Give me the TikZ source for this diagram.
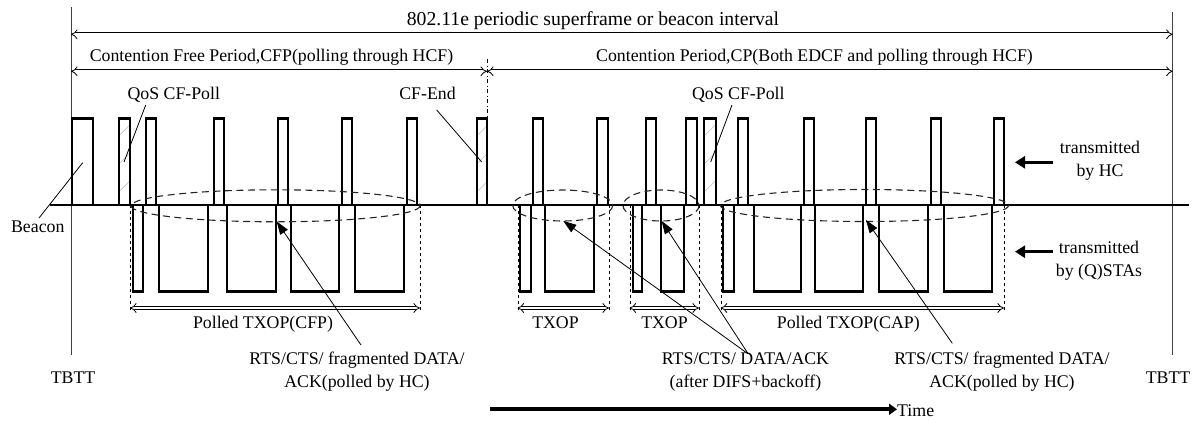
\documentclass[tikz,border=0pt]{standalone}
\usepackage{fontspec}
\setmainfont{Liberation Serif}
\usetikzlibrary{arrows.meta}
\begin{document}
\begin{tikzpicture}[x=1pt,y=-1pt,
  every node/.style={font=\fontsize{17.8}{23}\selectfont, inner sep=0pt},
  lbl/.style={anchor=base},
  titlefont/.style={font=\fontsize{19.7}{23}\selectfont},
  pulse/.style={line width=2.3pt, line join=miter},
  tbtt/.style={line width=1pt, black!75},
  dbl/.style={double, double distance=2.6pt, line width=0.8pt, {Implies}-{Implies}},
  boundary/.style={line width=1pt, dash pattern=on 3pt off 3pt},
  dashdotline/.style={line width=1pt, dash pattern=on 4pt off 2.5pt on 1pt off 2.5pt},
  oval/.style={draw=black!85, line width=1.1pt, dash pattern=on 7pt off 4.5pt},
  pointer/.style={line width=0.8pt},
  ptrarrow/.style={line width=0.8pt, -{Triangle[length=13pt,width=9pt]}},
  thickarrow/.style={line width=3.5pt, -{Triangle[length=10pt,width=12pt]}},
  timearrow/.style={line width=4pt, -{Triangle[length=8pt,width=11pt]}},
  hatch/.style={black!25, line width=0.6pt}
]
\useasboundingbox (0,0) rectangle (1202,421);

% TBTT lines
\node[lbl] (tbttL) at (73,383) {TBTT};
\node[lbl] (tbttR) at (1168,383) {TBTT};
\coordinate (tL1) at (71,7);
\coordinate (tL2) at (71,355);
\coordinate (tR1) at (1172.7,12);
\coordinate (tR2) at (1172.7,355);
\draw[tbtt] (tL1) -- (tL2);
\draw[tbtt] (tR1) -- (tR2);

% period arrows
\node[lbl, titlefont] (super) at (593,25) {802.11e periodic superframe or beacon interval};
\coordinate (sA) at (71,34.3);
\coordinate (sB) at (1172.7,34.3);
\draw[dbl] (sA) -- (sB);
\node[lbl] (cfp) at (271.5,61) {Contention Free Period,CFP(polling through HCF)};
\node[lbl] (cp) at (814.5,61) {Contention Period,CP(Both EDCF and polling through HCF)};
\coordinate (cA) at (71,71.3);
\coordinate (cM) at (487,71.3);
\coordinate (cB) at (1172.7,71.3);
\draw[dbl] (cA) -- (cM);
\draw[dbl] (cM) -- (cB);
\coordinate (ddTop) at (487,59);
\coordinate (ddBot) at (487,118.5);
\draw[dashdotline] (ddTop) -- (ddBot);

% hatching in special HC frames
\foreach \a/\b in {118.7/130, 476.7/487, 704.3/716}{
  \begin{scope}
    \clip (\a,118.5) rectangle (\b,205);
    \foreach \y in {136,164,192,220} \draw[hatch] (\a,\y) -- ++(40,-40);
  \end{scope}
}

% HC frames (above the line)
\foreach \a/\b in {71.7/92.7, 118.7/130, 146/156.3, 214/224, 278.3/288.3, 341.7/351.7,
  406.7/416.7, 476.7/487, 533/543.3, 596.7/607.7, 645.7/655.7, 685.7/696.7, 704.3/716,
  737.7/748.3, 804.3/814.3, 866/876, 930.7/941, 994.3/1004.3}
  \draw[pulse] (\a,205) -- (\a,118.5) -- (\b,118.5) -- (\b,205);

% STA frames (below the line)
\foreach \a/\b in {132.7/143, 159/207.7, 226.7/276, 291/339.3, 355/404, 520/530.7,
  545/594, 632.7/642.3, 660.7/684, 723.3/734.3, 754/801.3, 815/863.3, 879/928.3, 944/991.7}
  \draw[pulse] (\a,205) -- (\a,291.5) -- (\b,291.5) -- (\b,205);

% time line
\coordinate (lineL) at (50,205);
\coordinate (lineR) at (1189,205);
\draw[pulse] (lineL) -- (lineR);

% TXOP boundaries
\foreach \x in {130,420,518,609,630,699,721,1004}
  \draw[boundary] (\x,205) -- (\x,312);

% TXOP arrows
\coordinate (p1a) at (130,308);  \coordinate (p1b) at (420,308);
\coordinate (t1a) at (517.5,308); \coordinate (t1b) at (609,308);
\coordinate (t2a) at (629.5,308); \coordinate (t2b) at (699,308);
\coordinate (p2a) at (720.7,308); \coordinate (p2b) at (1004,308);
\draw[dbl] (p1a) -- (p1b);
\draw[dbl] (t1a) -- (t1b);
\draw[dbl] (t2a) -- (t2b);
\draw[dbl] (p2a) -- (p2b);
\node[lbl] (ptcfp) at (263,328.3) {Polled TXOP(CFP)};
\node[lbl] (tx1) at (555.5,328.3) {TXOP};
\node[lbl] (tx2) at (664.5,328.3) {TXOP};
\node[lbl] (ptcap) at (848.3,328.3) {Polled TXOP(CAP)};

% dashed groupings
\draw[oval] (275.5,205.8) ellipse [x radius=144.5, y radius=16];
\draw[oval] (562.7,205.5) ellipse [x radius=50, y radius=15.5];
\draw[oval] (661,205.5) ellipse [x radius=38, y radius=15.5];
\draw[oval] (864.5,205.5) ellipse [x radius=144, y radius=16];

% frame labels with pointers
\node[lbl] (beacon) at (37.8,232.3) {Beacon};
\coordinate (beaconS) at (39,218);
\coordinate (beaconE) at (82.7,162.7);
\draw[pointer] (beaconS) -- (beaconE);

\node[lbl] (qos1) at (173.8,99) {QoS CF-Poll};
\coordinate (qos1S) at (145.7,105);
\coordinate (qos1E) at (124,162);
\draw[pointer] (qos1S) -- (qos1E);

\node[lbl] (cfend) at (427.5,99) {CF-End};
\coordinate (cfendS) at (436.7,110);
\coordinate (cfendE) at (481.7,162);
\draw[pointer] (cfendS) -- (cfendE);

\node[lbl] (qos2) at (738.3,99) {QoS CF-Poll};
\coordinate (qos2S) at (732,105);
\coordinate (qos2E) at (710.7,162);
\draw[pointer] (qos2S) -- (qos2E);

% side labels
\node[align=center] (hc) at (1100,160.6) {transmitted\\by HC};
\node[align=center] (sta) at (1099,260.6) {transmitted\\by (Q)STAs};
\coordinate (hcS) at (1053,162.3);
\coordinate (hcE) at (1015,162.3);
\coordinate (staS) at (1053,251.7);
\coordinate (staE) at (1015,251.7);
\draw[thickarrow] (hcS) -- (hcE);
\draw[thickarrow] (staS) -- (staE);

% bottom labels with arrows
\node[align=center] (cfpLbl) at (357,371.3) {RTS/CTS/ fragmented DATA/\\ACK(polled by HC)};
\node[align=center] (dcfLbl) at (745.5,371.8) {RTS/CTS/ DATA/ACK\\(after DIFS+backoff)};
\node[align=center] (capLbl) at (1002,371.3) {RTS/CTS/ fragmented DATA/\\ACK(polled by HC)};
\coordinate (cfpS) at (361,345);
\coordinate (cfpTip) at (276.7,221.5);
\coordinate (dcfS) at (748.3,354);
\coordinate (dcfTip1) at (563.3,221);
\coordinate (dcfTip2) at (661.7,221);
\coordinate (capS) at (952.3,343.3);
\coordinate (capTip) at (866,220);
\draw[ptrarrow] (cfpS) -- (cfpTip);
\draw[ptrarrow] (dcfS) -- (dcfTip1);
\draw[ptrarrow] (dcfS) -- (dcfTip2);
\draw[ptrarrow] (capS) -- (capTip);

% time arrow
\node[anchor=west] (time) at (897,410.5) {Time};
\coordinate (timeS) at (490,409.3);
\draw[timearrow] (timeS) -- (time.west |- timeS);
\end{tikzpicture}
\end{document}
